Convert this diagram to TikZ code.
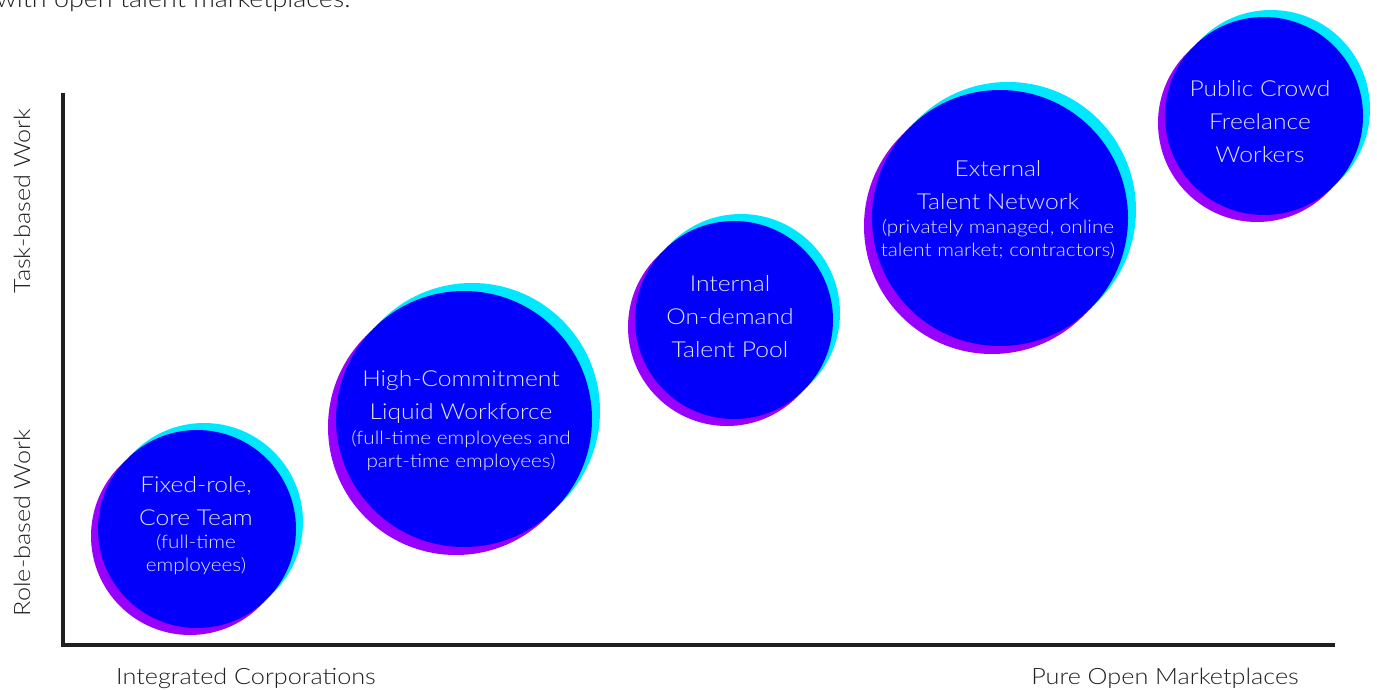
\documentclass[tikz,border=0pt]{standalone}
\usepackage{fontspec}
\setmainfont{Lato}[UprightFont=* Light, FakeStretch=1.12]
\usetikzlibrary{positioning}
\definecolor{bubbleblue}{RGB}{2,0,250}
\definecolor{rimcyan}{RGB}{0,232,255}
\definecolor{rimpurple}{RGB}{152,0,255}
\definecolor{bubbletext}{RGB}{226,228,255}
\definecolor{axisgray}{RGB}{32,30,32}
\tikzstyle{bubble} = [circle, fill=bubbleblue, inner sep=0pt, outer sep=0pt]
\tikzstyle{bubblelabel} = [text=bubbletext, align=center, inner sep=0pt,
    font=\fontsize{22}{33}\selectfont
]
\tikzstyle{axislabel} = [text=axisgray, inner sep=0pt, font=\fontsize{22.5}{27}\selectfont]
\tikzstyle{axisline} = [draw=axisgray, line width=4.5pt]
\newcommand{\bubblesmall}{\fontsize{18.5}{23}\selectfont}
\newcommand{\talentbubble}[5]{
	\fill[rimcyan] (#2+#5,#3-#5) circle[radius=#4pt];
	\fill[rimpurple] (#2-#5,#3+#5) circle[radius=#4pt];
	\node(#1) at (#2,#3) [bubble, minimum size=2*#4pt] {};
}

\begin{document}
\begin{tikzpicture}[x=1pt, y=-1pt]
	\useasboundingbox (0,0) rectangle (1377,690);
	\clip (0,0) rectangle (1377,690);
	\fill[white] (0,0) rectangle (1377,690);

	\node(intro) at (-4,8) [axislabel, anchor=base west, font=\fontsize{24}{28}\selectfont] {with open talent marketplaces.};

	% axes
	\coordinate(top) at (63,93);
	\coordinate(origin) at (63,645);
	\coordinate(right) at (1335,645);
	\draw[axisline] (top) -- (origin) -- (right);

	\node(taskwork) at (22,201) [axislabel, rotate=90] {Task-based Work};
	\node(rolework) at (22,523) [axislabel, rotate=90] {Role-based Work};
	\node(integrated) at (246,684) [axislabel, anchor=base] {Integrated Corporations};
	\node(marketplaces) at (1165,684) [axislabel, anchor=base] {Pure Open Marketplaces};

	% bubbles
	\talentbubble{fixed}{197}{529}{99}{7};
	\talentbubble{liquid}{464}{419}{128}{8};
	\talentbubble{internal}{734}{320}{99}{7};
	\talentbubble{external}{1000}{218}{128}{8};
	\talentbubble{crowd}{1264}{116}{99}{7};

	\node(fixed-text) at (196,525.5) [bubblelabel] {Fixed-role,\\Core Team\\[-10pt]
		\bubblesmall(full-time\\[-10pt]\bubblesmall employees)};
	\node(liquid-text) at (461,420.5) [bubblelabel] {High-Commitment\\Liquid Workforce\\[-8pt]
		\bubblesmall(full-time employees and\\[-10pt]\bubblesmall part-time employees)};
	\node(internal-text) at (730,317) [bubblelabel] {Internal\\On-demand\\Talent Pool};
	\node(external-text) at (998,209.5) [bubblelabel] {External\\Talent Network\\[-9pt]
		\bubblesmall(privately managed, online\\[-10pt]\bubblesmall talent market; contractors)};
	\node(crowd-text) at (1260,122) [bubblelabel] {Public Crowd\\Freelance\\Workers};
\end{tikzpicture}
\end{document}
